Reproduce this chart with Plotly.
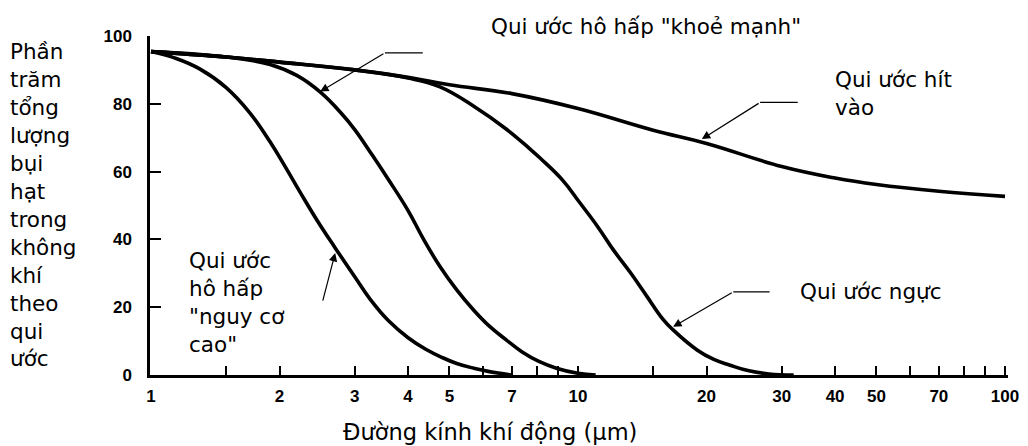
import math
import plotly.graph_objects as go

# ---------------- data ----------------
# Inhalable convention ("Qui ước hít vào")
inhal_d = [1, 1.5, 2, 3, 4, 5, 7, 10, 15, 20, 30, 40, 50, 70, 100]
inhal_v = [95.4, 93.8, 92.3, 90.0, 87.8, 85.6, 83.0, 78.6, 72.2, 68.3, 61.5, 58.1, 56.2, 54.2, 52.7]

# Thoracic convention ("Qui ước ngực")
thor_d = [1, 1.5, 2, 3, 4, 4.75, 5.7, 6.8, 7.7, 8.15, 9.2, 10.1, 11.1, 12.1, 13.3,
          14.5, 15.8, 16.7, 19, 20.8, 22.7, 25, 28, 32]
thor_v = [95.4, 93.8, 92.3, 90.0, 87.6, 85.0, 79.3, 72.5, 66.8, 64.0, 57.5, 50.8, 43.9, 36.9, 30.0,
          23.2, 16.5, 13.3, 7.4, 4.6, 2.9, 1.3, 0.3, 0.0]

# Respirable convention, healthy ("Qui ước hô hấp 'khoẻ mạnh'")
resp_d = [1, 1.5, 1.9, 2.2, 2.5, 2.8, 3.0, 3.3, 3.6, 4.0, 4.35, 4.75, 5.2, 5.7, 6.2,
          6.8, 7.4, 8.1, 8.9, 10, 11]
resp_v = [95.4, 93.8, 91.6, 88.3, 83.3, 77.0, 72.4, 64.8, 57.6, 48.5, 40.0, 32.0, 25.1, 19.1, 14.4,
          10.3, 6.8, 4.0, 2.0, 0.5, 0.0]

# Respirable convention, high risk ("Qui ước hô hấp 'nguy cơ cao'")
risk_d = [1, 1.15, 1.3, 1.5, 1.7, 1.9, 2.05, 2.25, 2.45, 2.7, 3.0, 3.3, 3.6, 4.0, 4.4,
          4.8, 5.2, 5.7, 6.2, 7]
risk_v = [95.4, 93.3, 90.3, 84.8, 77.5, 68.8, 62.0, 53.3, 45.6, 37.5, 29.0, 21.5, 16.0, 11.0, 7.6,
          5.2, 3.4, 2.0, 1.0, 0.0]

# Axis ticks
x_tickvals = [1, 1.5, 2, 3, 4, 5, 6, 7, 8, 9, 10, 15, 20, 30, 40, 50, 60, 70, 80, 90, 100]
x_ticktext = ["1", "", "2", "3", "4", "5", "", "7", "", "", "10", "", "20", "30", "40", "50",
              "", "70", "", "", "100"]
y_tickvals = [0, 20, 40, 60, 80, 100]

# ---------------- figure ----------------
TXT = dict(family="DejaVu Sans", size=21.5, color="black")
TICK = dict(family="Liberation Sans", size=17, color="black", weight="bold")

fig = go.Figure()
for d, v in [(inhal_d, inhal_v), (thor_d, thor_v), (resp_d, resp_v), (risk_d, risk_v)]:
    fig.add_trace(go.Scatter(
        x=d, y=v, mode="lines", showlegend=False, hoverinfo="skip",
        line=dict(color="black", width=3.6, shape="spline", smoothing=1.2),
    ))

L = math.log10

# leader arrows: (tip D, tip v, tail D, tail v, horizontal end D or None)
leaders = [
    (2.49, 83.6, 3.53, 95.0, 4.33),    # respirable healthy
    (19.5, 69.6, 26.7, 80.4, 32.7),    # inhalable
    (16.7, 14.2, 23.1, 24.5, 28.1),    # thoracic
    (2.70, 36.0, 2.52, 21.5, None),    # high risk
]
annotations = []
shapes = []
for td, tv, ad, av, hd in leaders:
    annotations.append(dict(
        x=L(td), y=tv, xref="x", yref="y", ax=L(ad), ay=av, axref="x", ayref="y",
        text="", showarrow=True, arrowhead=2, arrowsize=1.4, arrowwidth=1.2,
        arrowcolor="black", standoff=0, startstandoff=0,
    ))
    if hd is not None:
        # shapes on a log axis take data values directly
        shapes.append(dict(type="line", xref="x", yref="y", x0=ad, x1=hd, y0=av, y1=av,
                           line=dict(color="black", width=1.2)))

PW, PH = 858, 339   # plot-area size in px


def px(xp):
    return (xp - 150) / PW


def py(yp):
    return (375 - yp) / PH


annotations += [
    dict(x=px(489), y=py(27), xref="paper", yref="paper", xanchor="left", yanchor="middle",
         text="Qui ước hô hấp \"khoẻ mạnh\"", showarrow=False, font=TXT),
    dict(x=L(39.5), y=82.9, xref="x", yref="y", xanchor="left", yanchor="middle", align="left",
         text="Qui ước hít<br>vào", showarrow=False, font=TXT),
    dict(x=L(32.7), y=24.5, xref="x", yref="y", xanchor="left", yanchor="middle",
         text="Qui ước ngực", showarrow=False, font=TXT),
    dict(x=L(1.214), y=21.4, xref="x", yref="y", xanchor="left", yanchor="middle", align="left",
         text="Qui ước<br>hô hấp<br>\"nguy cơ<br>cao\"", showarrow=False, font=TXT),
    dict(x=px(8), y=py(204.5), xref="paper", yref="paper",
         xanchor="left", yanchor="middle", align="left", showarrow=False, font=TXT,
         text="Phần<br>trăm<br>tổng<br>lượng<br>bụi<br>hạt<br>trong<br>không<br>khí<br>theo<br>qui<br>ước"),
    dict(x=px(490), y=py(432), xref="paper", yref="paper",
         xanchor="center", yanchor="middle", showarrow=False,
         font=dict(family="DejaVu Sans", size=22.5, color="black"),
         text="Đường kính khí động (μm)"),
]

# the page body has an 8px margin, so the figure is 8px smaller and margins shifted
fig.update_layout(
    width=1020, height=438,
    margin=dict(l=142, r=20, t=28, b=71, autoexpand=False),
    paper_bgcolor="white", plot_bgcolor="white",
    annotations=annotations, shapes=shapes,
    xaxis=dict(
        type="log", range=[-1 / 427, -1 / 427 + PW / 427],
        tickvals=x_tickvals, ticktext=x_ticktext,
        ticks="inside", ticklen=9, tickwidth=1.5, tickcolor="black",
        showline=True, linecolor="black", linewidth=2.5,
        showgrid=False, zeroline=False, tickfont=TICK, ticklabelstandoff=4,
    ),
    yaxis=dict(
        range=[0, 100], tickvals=y_tickvals,
        ticks="inside", ticklen=11, tickwidth=2, tickcolor="black",
        showline=True, linecolor="black", linewidth=2.5,
        showgrid=False, zeroline=False, tickfont=TICK, ticklabelstandoff=12,
    ),
)

fig.write_html("out.html")
